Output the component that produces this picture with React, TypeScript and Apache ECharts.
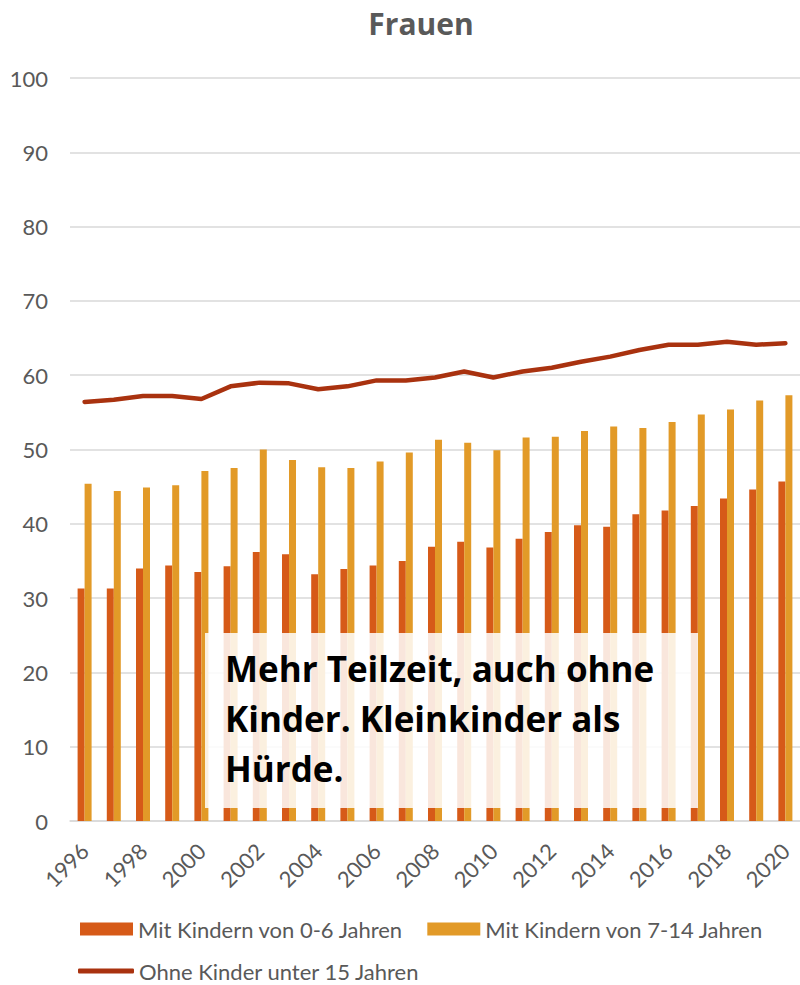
import React, { useEffect, useRef } from "react";
import * as echarts from "echarts";

const years = [
  "1996", "1997", "1998", "1999", "2000", "2001", "2002", "2003", "2004",
  "2005", "2006", "2007", "2008", "2009", "2010", "2011", "2012", "2013",
  "2014", "2015", "2016", "2017", "2018", "2019", "2020",
];

const mitKindern06 = [
  31.3, 31.3, 34.0, 34.4, 33.5, 34.3, 36.2, 35.9, 33.2, 33.9, 34.4, 35.0, 36.9,
  37.6, 36.8, 38.0, 38.9, 39.8, 39.6, 41.3, 41.8, 42.4, 43.4, 44.6, 45.7,
];

const mitKindern714 = [
  45.4, 44.4, 44.9, 45.2, 47.1, 47.5, 50.0, 48.6, 47.6, 47.5, 48.4, 49.6, 51.3,
  50.9, 49.9, 51.6, 51.7, 52.5, 53.1, 52.9, 53.7, 54.7, 55.4, 56.6, 57.3,
];

const ohneKinder = [
  56.4, 56.7, 57.2, 57.2, 56.8, 58.5, 59.0, 58.9, 58.1, 58.5, 59.3, 59.3, 59.7,
  60.5, 59.7, 60.5, 61.0, 61.8, 62.5, 63.4, 64.1, 64.1, 64.5, 64.1, 64.3,
];

const seriesNames = [
  "Mit Kindern von 0-6 Jahren",
  "Mit Kindern von 7-14 Jahren",
  "Ohne Kinder unter 15 Jahren",
];

const titleText = "Frauen";
const noteText = "Mehr Teilzeit, auch ohne\nKinder. Kleinkinder als\nHürde.";

const FONT = "Lato, 'Open Sans', sans-serif";
const NOTE_FONT = "'Open Sans', Lato, sans-serif";
const GREY = "#595959";

export default function App() {
  const ref = useRef<HTMLDivElement>(null);

  useEffect(() => {
    if (!ref.current) return;
    const chart = echarts.init(ref.current, undefined, { renderer: "svg" });
    chart.setOption({
      animation: false,
      textStyle: { fontFamily: FONT },
      title: {
        text: titleText,
        left: 416,
        textAlign: "center",
        top: 3,
        textStyle: { fontSize: 30, fontWeight: "bold", color: GREY, fontFamily: NOTE_FONT },
      },
      grid: { left: 70, right: -7, top: 78, bottom: 164, containLabel: false },
      legend: [
        {
          data: [seriesNames[0], seriesNames[1]],
          left: 80,
          top: 918,
          padding: 0,
          itemWidth: 53,
          itemHeight: 13,
          itemGap: 24,
          icon: "rect",
          textStyle: { fontSize: 22, color: GREY, fontFamily: FONT },
        },
        {
          data: [{ name: seriesNames[2], icon: "roundRect" }],
          left: 78,
          top: 960,
          padding: 0,
          itemWidth: 56,
          itemHeight: 5,
          textStyle: { fontSize: 22, color: GREY, fontFamily: FONT },
        },
      ],
      xAxis: {
        type: "category",
        data: years,
        axisLine: { show: true, lineStyle: { color: "#d9d9d9", width: 1.5 } },
        axisTick: { show: false },
        axisLabel: {
          interval: 1,
          rotate: 45,
          fontSize: 22,
          color: GREY,
          fontFamily: FONT,
          margin: 26,
        },
      },
      yAxis: {
        type: "value",
        min: 0,
        max: 100,
        interval: 10,
        axisLine: { show: false },
        axisTick: { show: false },
        axisLabel: { fontSize: 22, color: GREY, fontFamily: FONT, margin: 22 },
        splitLine: { lineStyle: { color: "#d9d9d9", width: 1.5 } },
      },
      series: [
        {
          name: seriesNames[0],
          type: "bar",
          data: mitKindern06,
          barWidth: 7,
          barGap: "0%",
          itemStyle: { color: "#D65A18" },
        },
        {
          name: seriesNames[1],
          type: "bar",
          data: mitKindern714,
          barWidth: 7,
          barGap: "0%",
          itemStyle: { color: "#E29A28" },
        },
        {
          name: seriesNames[2],
          type: "line",
          data: ohneKinder,
          symbol: "none",
          lineStyle: { color: "#A9320F", width: 4.5, cap: "round" },
          itemStyle: { color: "#A9320F" },
          z: 5,
        },
      ],
      graphic: [
        {
          type: "rect",
          z: 100,
          shape: { x: 205, y: 633, width: 493, height: 175 },
          style: { fill: "rgba(255,255,255,0.85)" },
        },
        {
          type: "text",
          z: 101,
          x: 225,
          y: 643,
          style: {
            text: noteText,
            font: `bold 35px ${NOTE_FONT}`,
            lineHeight: 50,
            fill: "#000000",
            verticalAlign: "top",
          },
        },
      ],
    });
    return () => chart.dispose();
  }, []);

  return (
    <div
      ref={ref}
      style={{ position: "absolute", left: 0, top: 0, width: 800, height: 985 }}
    />
  );
}
